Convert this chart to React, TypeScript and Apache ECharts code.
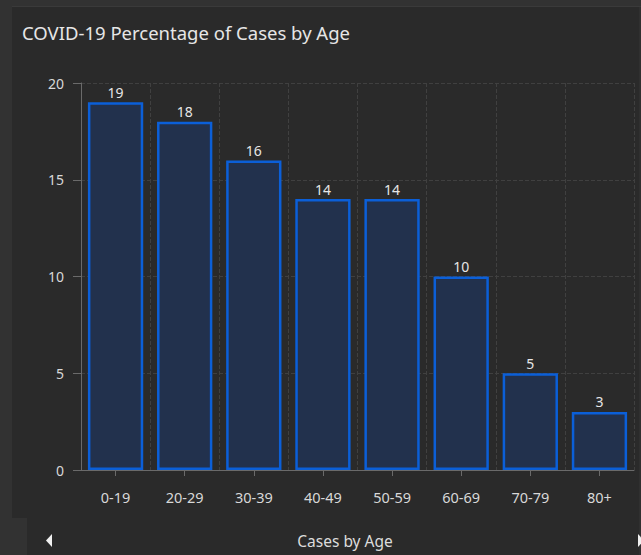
import React, { useEffect, useRef } from "react";
import * as echarts from "echarts";

const categories = ["0-19", "20-29", "30-39", "40-49", "50-59", "60-69", "70-79", "80+"];
const percentages = [19, 18, 16, 14, 14, 10, 5, 3];
const yTicks = [0, 5, 10, 15, 20];
const titleText = "COVID-19 Percentage of Cases by Age";
const axisTitle = "Cases by Age";

export default function App() {
  const ref = useRef<HTMLDivElement>(null);
  useEffect(() => {
    if (!ref.current) return;
    const chart = echarts.init(ref.current, undefined, { renderer: "svg" });
    const font = "'Noto Sans', 'Open Sans', sans-serif";
    chart.setOption({
      animation: false,
      backgroundColor: "#2a2a2a",
      textStyle: { fontFamily: font },
      graphic: [
        { type: "rect", shape: { x: 0, y: 0, width: 641, height: 7 }, style: { fill: "#323232" }, silent: true },
        { type: "rect", shape: { x: 0, y: 6, width: 641, height: 1 }, style: { fill: "#3a3a3a" }, silent: true },
        { type: "rect", shape: { x: 0, y: 0, width: 12, height: 555 }, style: { fill: "#323232" }, silent: true },
        { type: "rect", shape: { x: 0, y: 518, width: 27, height: 37 }, style: { fill: "#323232" }, silent: true },
        { type: "rect", shape: { x: 639, y: 7, width: 2, height: 548 }, style: { fill: "#303030" }, silent: true },
        {
          type: "text",
          x: 22,
          y: 32,
          style: { text: titleText, fill: "#e6e6e6", font: `18.5px ${font}`, verticalAlign: "middle", align: "left" },
          silent: true,
        },
        {
          type: "text",
          x: 345,
          y: 541,
          style: { text: axisTitle, fill: "#dcdcdc", font: `15.5px ${font}`, verticalAlign: "middle", align: "center" },
          silent: true,
        },
        {
          type: "polygon",
          shape: { points: [[52, 534], [52, 547], [46, 540.5]] },
          style: { fill: "#f0f0f0" },
          silent: true,
        },
        {
          type: "polygon",
          shape: { points: [[638, 534], [638, 547], [644, 540.5]] },
          style: { fill: "#f0f0f0" },
          silent: true,
        },
      ],
      grid: { left: 81, top: 83, right: 7, bottom: 85, containLabel: false },
      xAxis: {
        type: "category",
        data: categories,
        axisLine: { show: true, lineStyle: { color: "#6a6a6a", width: 1 } },
        axisTick: { show: true, alignWithLabel: true, length: 6, lineStyle: { color: "#6a6a6a" } },
        axisLabel: { color: "#d8d8d8", fontSize: 14.5, margin: 19, fontFamily: font },
        splitLine: { show: true, interval: 0, lineStyle: { color: "#404040", type: "dashed", width: 1 } },
      },
      yAxis: {
        type: "value",
        min: yTicks[0],
        max: yTicks[yTicks.length - 1],
        interval: 5,
        axisLine: { show: true, lineStyle: { color: "#6a6a6a", width: 1 } },
        axisTick: { show: true, length: 8, lineStyle: { color: "#6a6a6a" } },
        axisLabel: { color: "#d8d8d8", fontSize: 14, margin: 17, fontFamily: font },
        splitLine: { show: true, lineStyle: { color: "#404040", type: "dashed", width: 1 } },
      },
      series: [
        {
          type: "bar",
          data: percentages,
          barCategoryGap: "20%",
          itemStyle: { color: "#22314d", borderColor: "#0b5fd8", borderWidth: 2.5 },
          label: { show: true, position: "top", color: "#e6e6e6", fontSize: 14, distance: 3, fontFamily: font },
        },
      ],
    });
    return () => chart.dispose();
  }, []);
  return (
    <div style={{ position: "fixed", left: 0, top: 0, width: 641, height: 555 }}>
      <div ref={ref} style={{ width: 641, height: 555 }} />
    </div>
  );
}
